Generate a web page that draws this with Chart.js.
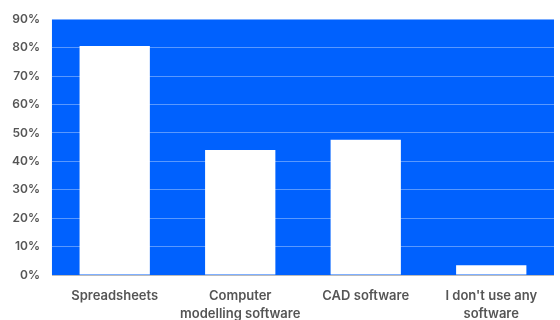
<!DOCTYPE html>
<html>
<head>
<meta charset="utf-8">
<script src="https://cdn.jsdelivr.net/npm/chart.js@4"></script>
<style>
  html, body { margin: 0; padding: 0; background: #fff; }
  #wrap { width: 560px; height: 320px; }
</style>
</head>
<body>
<div id="wrap"><canvas id="softwareChart"></canvas></div>
<script>
// доля респондентов по используемому ПО
const categories = [
  ["Spreadsheets"],
  ["Computer", "modelling software"],
  ["CAD software"],
  ["I don't use any", "software"]
];
const shares = [80.6, 44.0, 47.6, 3.5];

const COLORS = {
  plot: "#0061fe",
  bar:  "#ffffff",
  grid: "rgba(255,255,255,0.35)",
  text: "#555555"
};

// заливка области графика синим
const plotBackground = {
  id: "plotBackground",
  beforeDraw(chart) {
    const { ctx, chartArea: a } = chart;
    ctx.save();
    ctx.fillStyle = COLORS.plot;
    ctx.fillRect(a.left, a.top, a.right - a.left, a.bottom - a.top);
    ctx.restore();
  }
};

new Chart(document.getElementById("softwareChart").getContext("2d"), {
  type: "bar",
  data: {
    labels: categories,
    datasets: [{
      data: shares,
      backgroundColor: COLORS.bar,
      barPercentage: 0.56,
      categoryPercentage: 1
    }]
  },
  options: {
    responsive: true,
    maintainAspectRatio: false,
    animation: false,
    // подписи оси X опускаем ближе к нижнему краю
    layout: { padding: { top: 7, right: 6, left: 0, bottom: -15 } },
    plugins: { legend: { display: false }, tooltip: { enabled: false } },
    scales: {
      x: {
        grid: { display: false, drawTicks: false },
        border: { display: false },
        ticks: {
          color: COLORS.text,
          font: { family: "Inter", size: 13, weight: "600", lineHeight: 1.38 },
          padding: 12,
          autoSkip: false,
          maxRotation: 0
        }
      },
      y: {
        min: 0,
        max: 90,
        ticks: {
          stepSize: 10,
          color: COLORS.text,
          font: { family: "Inter", size: 12, weight: "600" },
          padding: 12,
          callback: v => v + "%"
        },
        grid: {
          color: ctx => ctx.tick.value === 0 ? "#bbbbbb" : COLORS.grid,
          drawTicks: false,
          lineWidth: 1
        },
        border: { display: false }
      }
    }
  },
  plugins: [plotBackground]
});
</script>
</body>
</html>
